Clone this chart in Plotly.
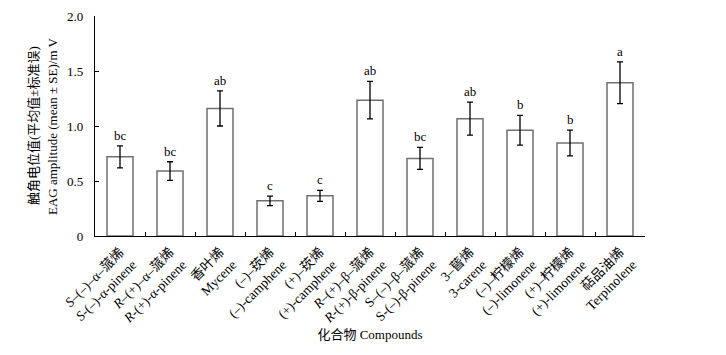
import plotly.graph_objects as go

categories_cn = ["<i>S</i>–(–)–α–蒎烯", "<i>R</i>–(+)–α–蒎烯", "香叶烯", "(–)–莰烯", "(+)–莰烯",
                 "<i>R</i>–(+)–β–蒎烯", "S–(–)–β–蒎烯", "3–蒈烯", "(–)–柠檬烯", "(+)–柠檬烯", "萜品油烯"]
categories_en = ["<i>S</i>-(–)-α-pinene", "<i>R</i>-(+)-α-pinene", "Mycene", "(–)-camphene", "(+)-camphene",
                 "<i>R</i>-(+)-β-pinene", "S-(–)-β-pinene", "3-carene", "(–)-limonene", "(+)-limonene", "Terpinolene"]
means = [0.72, 0.59, 1.16, 0.32, 0.365, 1.235, 0.705, 1.067, 0.962, 0.846, 1.393]
se = [0.10, 0.085, 0.16, 0.043, 0.05, 0.17, 0.10, 0.15, 0.135, 0.117, 0.19]
letters = ["bc", "bc", "ab", "c", "c", "ab", "bc", "ab", "b", "b", "a"]
ytick_vals = [0, 0.5, 1.0, 1.5, 2.0]
ytick_text = ["0", "0.5", "1.0", "1.5", "2.0"]
ytitle_cn = "触角电位值(平均值±标准误)"
ytitle_en = "EAG amplitude (mean ± SE)/m V"
xtitle = "化合物 Compounds"

FONT = "Liberation Serif, Times New Roman, Noto Sans CJK SC"
xkeys = [f"c{i}" for i in range(len(means))]
xlabels = [f"{c}<br>{e}" for c, e in zip(categories_cn, categories_en)]

fig = go.Figure()
fig.add_trace(go.Bar(
    x=xkeys, y=means,
    marker=dict(color="white", line=dict(color="#707070", width=1.5)),
    error_y=dict(type="data", array=se, visible=True, color="black", thickness=1.3, width=3),
))
for k, m, s, l in zip(xkeys, means, se, letters):
    fig.add_annotation(x=k, y=m + s, text=l, showarrow=False, yanchor="bottom", yshift=1,
                       font=dict(family=FONT, size=13, color="black"))

# two-line y-axis title
fig.add_annotation(xref="paper", yref="paper", x=0, y=0.5, xanchor="center", yanchor="middle",
                   xshift=-62, textangle=-90, text=ytitle_cn, showarrow=False,
                   font=dict(family=FONT, size=13, color="black"))
fig.add_annotation(xref="paper", yref="paper", x=0, y=0.5, xanchor="center", yanchor="middle",
                   xshift=-43, textangle=-90, text=ytitle_en, showarrow=False,
                   font=dict(family=FONT, size=13, color="black"))

# figure shrunk by the 8px default page margin so it fits the window without scrollbars
fig.update_layout(
    template="none",
    width=718, height=347,
    margin=dict(l=87, r=81, t=8, b=119),
    plot_bgcolor="white", paper_bgcolor="white",
    showlegend=False, bargap=0.48,
    font=dict(family=FONT, size=12, color="black"),
)
fig.update_xaxes(
    type="category", tickvals=xkeys, ticktext=xlabels, tickangle=-45,
    tickson="boundaries", ticks="inside", ticklen=4, tickcolor="black", tickwidth=1,
    showline=True, linecolor="black", linewidth=1.2, showgrid=False, zeroline=False,
    range=[-0.5, 10.5], tickfont=dict(family=FONT, size=13.5, color="black"),
    automargin=False, ticklabelstandoff=2, ticklabeloverflow="allow",
    title=dict(text=xtitle, font=dict(family=FONT, size=13, color="black"), standoff=4),
)
fig.update_yaxes(
    range=[0, 2.0], tickvals=ytick_vals, ticktext=ytick_text,
    ticks="inside", ticklen=4, tickcolor="black", tickwidth=1,
    showline=True, linecolor="black", linewidth=1.2, showgrid=False, zeroline=False,
    tickfont=dict(family=FONT, size=13, color="black"),
    automargin=False, ticklabelstandoff=8, ticklabeloverflow="allow",
)
fig.write_html("out.html")
